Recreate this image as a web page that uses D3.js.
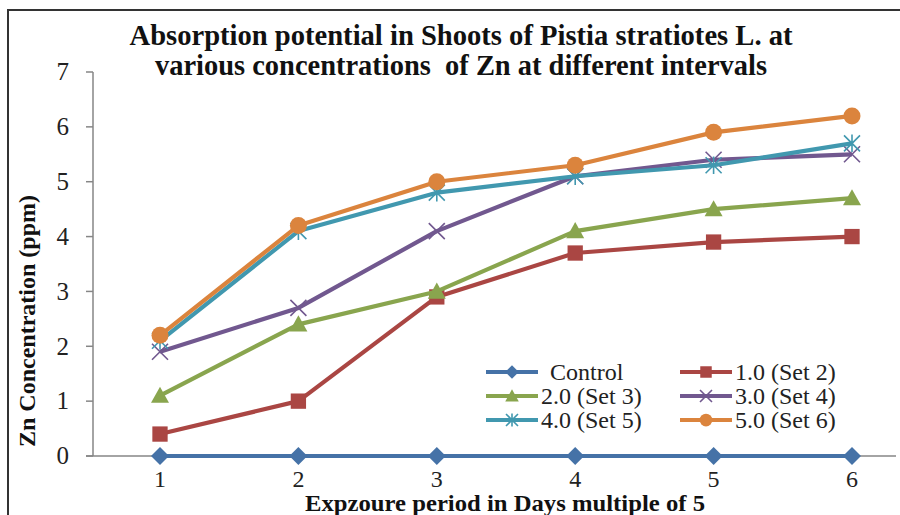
<!DOCTYPE html>
<meta charset="utf-8">
<style>
  body { margin:0; background:#fff; }
</style>
<svg width="900" height="515"></svg>
<script src="https://d3js.org/d3.v7.min.js"></script>
<script>

var periods = [1, 2, 3, 4, 5, 6];
var seriesNames = ["Control", "1.0 (Set 2)", "2.0 (Set 3)", "3.0 (Set 4)", "4.0 (Set 5)", "5.0 (Set 6)"];
var control = [0, 0, 0, 0, 0, 0];
var set2 = [0.4, 1.0, 2.9, 3.7, 3.9, 4.0];
var set3 = [1.1, 2.4, 3.0, 4.1, 4.5, 4.7];
var set4 = [1.9, 2.7, 4.1, 5.1, 5.4, 5.5];
var set5 = [2.1, 4.1, 4.8, 5.1, 5.3, 5.7];
var set6 = [2.2, 4.2, 5.0, 5.3, 5.9, 6.2];
var yTicks = [0, 1, 2, 3, 4, 5, 6, 7];

var colors = ["#4572A7", "#AA4643", "#89A54E", "#71588F", "#4198AF", "#DB843D"];
var markers = ["diamond", "square", "triangle", "cross", "star", "circle"];

var series = [control, set2, set3, set4, set5, set6].map(function(v, i) {
  return { name: seriesNames[i], color: colors[i], marker: markers[i],
           values: v.map(function(d, j) { return { x: periods[j], y: d }; }) };
});

var svg = d3.select("svg");
var serif = "'Times New Roman'";

var x = d3.scaleLinear().domain([1, 6]).range([160, 852]);
var y = d3.scaleLinear().domain([0, 7]).range([456, 72]);

// outer frame (top + left only visible)
svg.append("path")
    .attr("d", "M8,515V10H900")
    .attr("fill", "none")
    .attr("stroke", "#333")
    .attr("stroke-width", 2);

// title
var title = svg.append("g").attr("font-weight", "bold").attr("font-size", 30)
    .attr("text-anchor", "middle").attr("fill", "#111").style("font-family", serif);
title.append("text").attr("x", 461).attr("y", 45)
    .attr("textLength", 663).attr("lengthAdjust", "spacingAndGlyphs")
    .text("Absorption potential in Shoots of Pistia stratiotes L. at");
title.append("text").attr("x", 461).attr("y", 75)
    .attr("textLength", 612).attr("lengthAdjust", "spacingAndGlyphs")
    .style("white-space", "pre")
    .text("various concentrations  of Zn at different intervals");

// axes
var axisColor = "#868686";
svg.append("line").attr("x1", 93).attr("x2", 93).attr("y1", y(7)).attr("y2", y(0))
    .attr("stroke", axisColor).attr("stroke-width", 1.5);
svg.append("line").attr("x1", 86).attr("x2", 896).attr("y1", y(0)).attr("y2", y(0))
    .attr("stroke", axisColor).attr("stroke-width", 1.5);

var yt = svg.append("g").selectAll("g").data(yTicks).enter().append("g")
    .attr("transform", function(d) { return "translate(0," + y(d) + ")"; });
yt.append("line").attr("x1", 86).attr("x2", 93).attr("stroke", axisColor).attr("stroke-width", 1.5);
yt.append("text").attr("x", 69).attr("dy", "0.33em").attr("text-anchor", "end")
    .attr("font-size", 25).attr("fill", "#222").style("font-family", serif)
    .text(function(d) { return d; });

svg.append("g").selectAll("text").data(periods).enter().append("text")
    .attr("x", function(d) { return x(d); }).attr("y", 487)
    .attr("text-anchor", "middle").attr("font-size", 24).attr("fill", "#222")
    .style("font-family", serif)
    .text(function(d) { return d; });

svg.append("text")
    .attr("transform", "translate(35,321)rotate(-90)")
    .attr("text-anchor", "middle").attr("font-weight", "bold").attr("font-size", 24)
    .attr("textLength", 252).attr("lengthAdjust", "spacingAndGlyphs")
    .attr("fill", "#111").style("font-family", serif)
    .text("Zn Concentration (ppm)");

svg.append("text")
    .attr("x", 505).attr("y", 511)
    .attr("text-anchor", "middle").attr("font-weight", "bold").attr("font-size", 23)
    .attr("textLength", 400).attr("lengthAdjust", "spacingAndGlyphs")
    .attr("fill", "#111").style("font-family", serif)
    .text("Expzoure period in Days multiple of 5");

function drawMarker(sel, type, color, s) {
  if (type === "diamond") {
    sel.append("path").attr("d", "M0," + (-s) + "L" + s + ",0L0," + s + "L" + (-s) + ",0Z").attr("fill", color);
  } else if (type === "square") {
    sel.append("rect").attr("x", -s * 0.85).attr("y", -s * 0.85).attr("width", s * 1.7).attr("height", s * 1.7).attr("fill", color);
  } else if (type === "triangle") {
    sel.append("path").attr("d", "M0," + (-s) + "L" + s + "," + (s * 0.8) + "L" + (-s) + "," + (s * 0.8) + "Z").attr("fill", color);
  } else if (type === "cross") {
    sel.append("path").attr("d", "M" + (-s) + "," + (-s) + "L" + s + "," + s + "M" + (-s) + "," + s + "L" + s + "," + (-s))
      .attr("stroke", color).attr("stroke-width", 1.6).attr("fill", "none");
  } else if (type === "star") {
    sel.append("path").attr("d", "M" + (-s) + "," + (-s) + "L" + s + "," + s + "M" + (-s) + "," + s + "L" + s + "," + (-s) + "M0," + (-s * 1.1) + "V" + (s * 1.1))
      .attr("stroke", color).attr("stroke-width", 1.6).attr("fill", "none");
  } else {
    sel.append("circle").attr("r", s).attr("fill", color);
  }
}

var markerSize = { diamond: 9, square: 9, triangle: 9, cross: 8, star: 8, circle: 8.5 };

var line = d3.line().x(function(d) { return x(d.x); }).y(function(d) { return y(d.y); });

var sg = svg.append("g").selectAll("g").data(series).enter().append("g");
sg.append("path")
    .attr("d", function(d) { return line(d.values); })
    .attr("fill", "none")
    .attr("stroke", function(d) { return d.color; })
    .attr("stroke-width", 4.2)
    .attr("stroke-linejoin", "round");
sg.each(function(s) {
  d3.select(this).selectAll("g.m").data(s.values).enter().append("g")
    .attr("class", "m")
    .attr("transform", function(d) { return "translate(" + x(d.x) + "," + y(d.y) + ")"; })
    .each(function() { drawMarker(d3.select(this), s.marker, s.color, markerSize[s.marker]); });
});

// legend
var lg = svg.append("g").selectAll("g").data(series).enter().append("g")
    .attr("transform", function(d, i) { return "translate(" + (i % 2 ? 680 : 486) + "," + [372, 396, 420][Math.floor(i / 2)] + ")"; });
lg.append("line").attr("x1", 0).attr("x2", 52)
    .attr("stroke", function(d) { return d.color; }).attr("stroke-width", 4);
lg.each(function(s) {
  var m = d3.select(this).append("g").attr("transform", "translate(26,0)");
  drawMarker(m, s.marker, s.color, markerSize[s.marker] * 0.75);
});
lg.append("text")
    .attr("x", function(d, i) { return i === 0 ? 64 : 55; })
    .attr("dy", "0.33em")
    .attr("font-size", 24).attr("fill", "#222").style("font-family", serif)
    .text(function(d) { return d.name; });

</script>
